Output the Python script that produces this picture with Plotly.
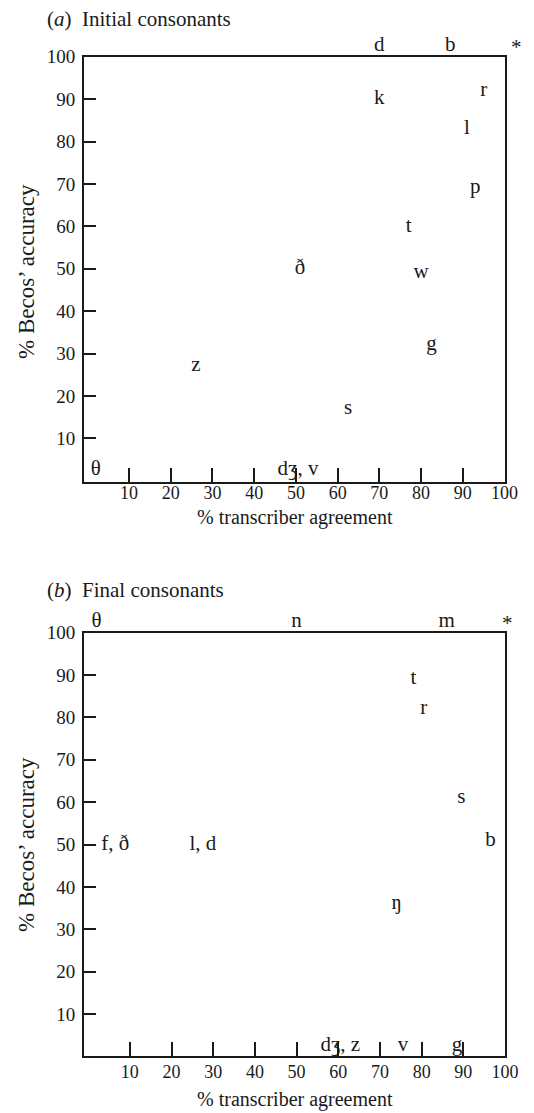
import plotly.graph_objects as go

# ---------------- data ----------------
# (a) Initial consonants
labels_a = ["d", "b", "k", "r", "l", "p", "t", "ð", "w", "g", "z", "s", "θ", "dʒ, v"]
x_a = [70, 87, 70, 95, 91, 93, 77, 51, 80, 82.5, 26, 62.5, 2, 50.5]
y_a = [100, 100, 90, 92, 83, 69, 60, 50, 49, 32, 27, 17, 0, 0]

# (b) Final consonants
labels_b = ["θ", "n", "m", "t", "r", "s", "b", "f, ð", "l, d", "ŋ", "dʒ, z", "v", "g"]
x_b = [2, 50, 86, 78, 80.5, 89.5, 96.5, 6.5, 27.5, 74, 60.5, 75.5, 88.5]
y_b = [100, 100, 100, 89, 82, 61, 51, 50, 50, 36, 0, 0, 0]

# perfect-score marker shown in both panels
star_label = "*"
star_x = 100
star_y = 100

tick_vals = [10, 20, 30, 40, 50, 60, 70, 80, 90, 100]
tick_text = [str(v) for v in tick_vals]

x_title = "% transcriber agreement"
y_title = "% Becos’ accuracy"
title_a = "(<i>a</i>)  Initial consonants"
title_b = "(<i>b</i>)  Final consonants"

# ---------------- styling ----------------
FONT = "Liberation Serif, Times New Roman, serif"
INK = "#1a1a1a"
W, H = 534, 1113
OFF = 8  # page body margin offset in the rendered page


def px_x(p):
    return (p - OFF) / W


def px_y(p):
    return 1 - (p - OFF) / H


def positions(ys):
    return ["top center" if (v >= 100 or v <= 0) else "middle center" for v in ys]


fig = go.Figure()
fig.add_trace(go.Scatter(
    x=x_a, y=y_a, text=labels_a, mode="text", textposition=positions(y_a),
    textfont=dict(family=FONT, size=21, color=INK), cliponaxis=False,
    xaxis="x", yaxis="y", hoverinfo="skip", showlegend=False))
fig.add_trace(go.Scatter(
    x=x_b, y=y_b, text=labels_b, mode="text", textposition=positions(y_b),
    textfont=dict(family=FONT, size=21, color=INK), cliponaxis=False,
    xaxis="x2", yaxis="y2", hoverinfo="skip", showlegend=False))


def xax(domain, anchor, rng, standoff):
    return dict(domain=domain, anchor=anchor, range=rng, tickvals=tick_vals, ticktext=tick_text,
                ticks="inside", ticklen=14, tickwidth=2, tickcolor=INK,
                showline=True, linecolor=INK, linewidth=2, mirror=True,
                showgrid=False, zeroline=False, fixedrange=True, automargin=False,
                ticklabelstandoff=standoff,
                tickfont=dict(family=FONT, size=18, color=INK))


def yax(domain, anchor, rng):
    return dict(domain=domain, anchor=anchor, range=rng, tickvals=tick_vals, ticktext=tick_text,
                ticks="inside", ticklen=12, tickwidth=2, tickcolor=INK,
                showline=True, linecolor=INK, linewidth=2, mirror=True,
                showgrid=False, zeroline=False, fixedrange=True, automargin=False,
                ticklabelstandoff=3,
                tickfont=dict(family=FONT, size=19, color=INK))


fig.update_layout(
    template="none",
    width=W, height=H, autosize=False,
    margin=dict(l=0, r=0, t=0, b=0, pad=0, autoexpand=False),
    paper_bgcolor="white", plot_bgcolor="white",
    xaxis=xax([px_x(84), px_x(504.5)], "y", [-0.8, 100], -7),
    yaxis=yax([px_y(482), px_y(56.7)], "x", [-0.3, 100]),
    xaxis2=xax([px_x(84), px_x(505)], "y2", [-1.0, 100], -2),
    yaxis2=yax([px_y(1056.4), px_y(632.6)], "x2", [0, 100]),
)

ann = [
    dict(text=title_a, x=px_x(45), y=px_y(19), xanchor="left", yanchor="middle", font_size=21),
    dict(text=title_b, x=px_x(45), y=px_y(590), xanchor="left", yanchor="middle", font_size=21),
    dict(text=x_title, x=px_x(295), y=px_y(517), xanchor="center", yanchor="middle", font_size=20),
    dict(text=x_title, x=px_x(295), y=px_y(1099), xanchor="center", yanchor="middle", font_size=20),
    dict(text=y_title, x=px_x(26), y=px_y(272), xanchor="center", yanchor="middle", font_size=23, textangle=-90),
    dict(text=y_title, x=px_x(26), y=px_y(845), xanchor="center", yanchor="middle", font_size=23, textangle=-90),
]
for a in ann:
    a.update(xref="paper", yref="paper", showarrow=False)
    a["font"] = dict(family=FONT, size=a.pop("font_size"), color=INK)

# star marker at the perfect-score corner of each panel
ann.append(dict(text=star_label, x=star_x, y=star_y, xref="x", yref="y", showarrow=False,
                xanchor="center", yanchor="bottom", xshift=12, yshift=-4,
                font=dict(family=FONT, size=21, color=INK)))
ann.append(dict(text=star_label, x=star_x, y=star_y, xref="x2", yref="y2", showarrow=False,
                xanchor="center", yanchor="bottom", xshift=2, yshift=-4,
                font=dict(family=FONT, size=21, color=INK)))
fig.update_layout(annotations=ann)

fig.write_html("out.html")
